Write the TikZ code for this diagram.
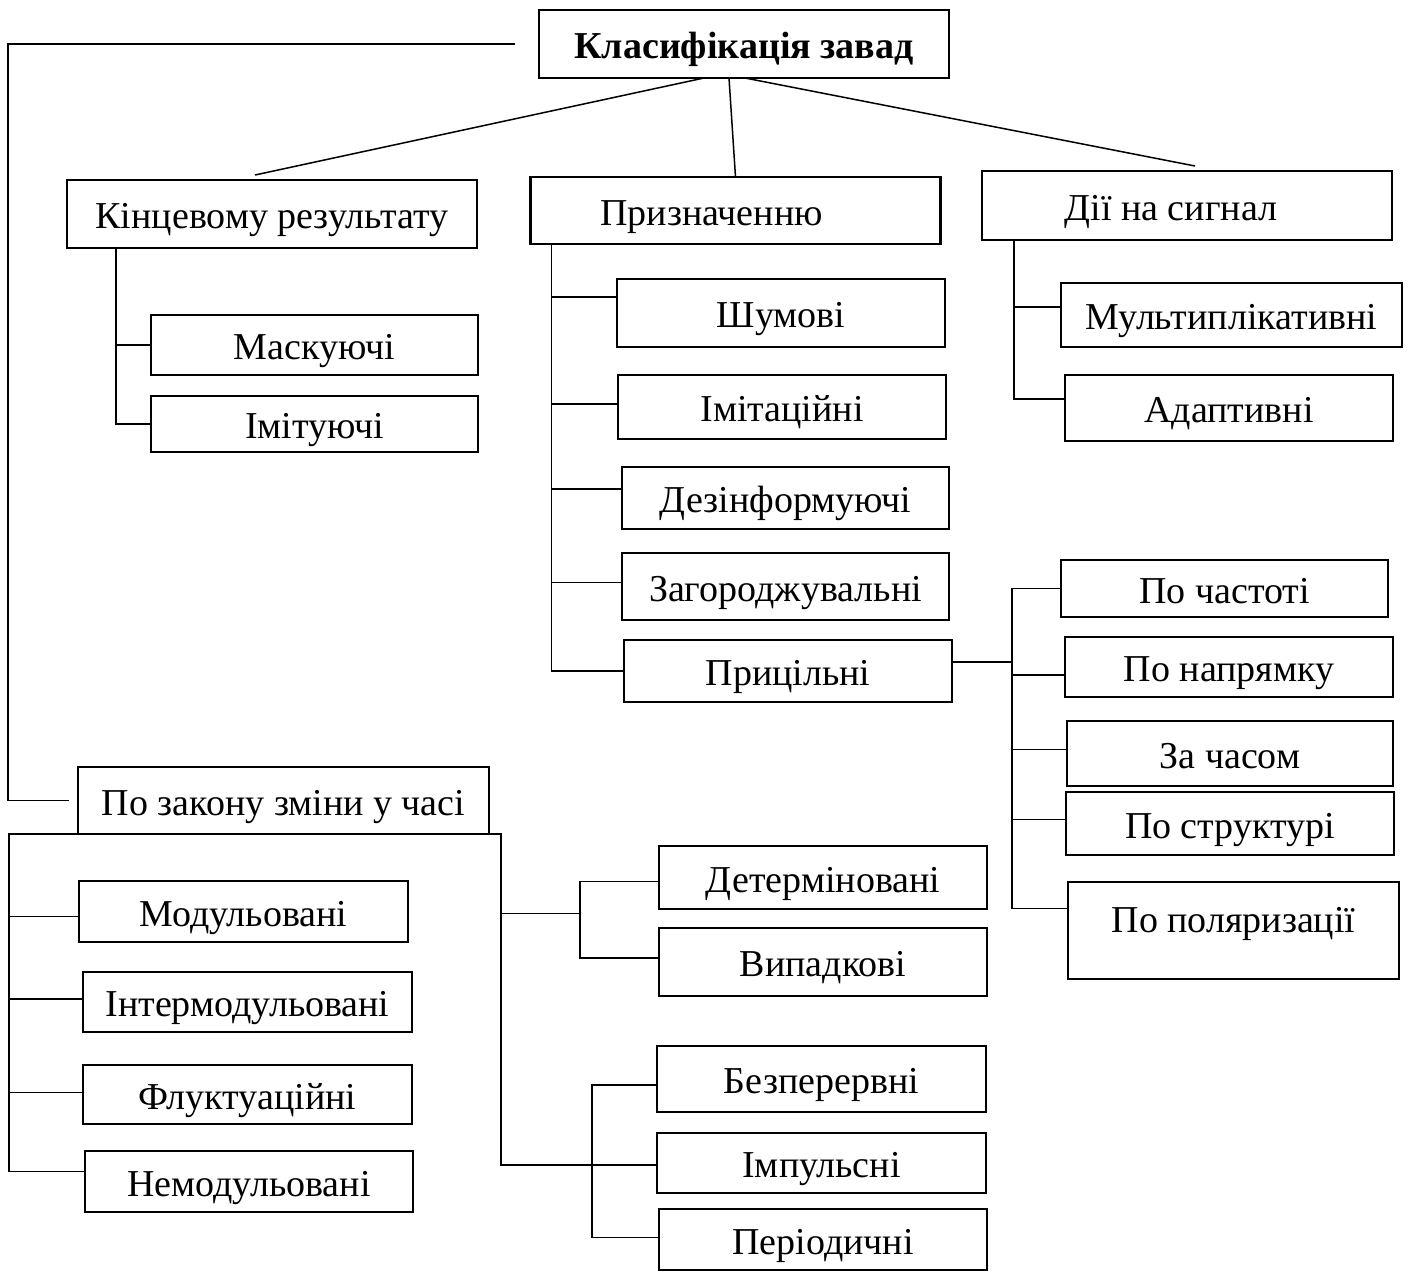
\documentclass[tikz,border=0pt]{standalone}
\usepackage{fontspec}
\setmainfont{Liberation Serif}
\usetikzlibrary{positioning}

\begin{document}
\begin{tikzpicture}[x=1pt,y=-1pt,
		box/.style={draw,line width=2.5pt,outer sep=0pt,minimum width=328pt,minimum height=64pt,inner sep=2pt,
			text height=33pt,text depth=4pt,font=\fontsize{38}{44}\selectfont},
		headbox/.style={box,minimum width=410pt,minimum height=68pt},
		link/.style={line width=1.5pt}]
			\useasboundingbox (0,0) rectangle (1411,1272);

			\node[headbox,font=\fontsize{38}{44}\selectfont\bfseries]	(root)	at (744,44)	{Класифікація завад};
			\node[headbox]										(kin)	at (272,214)	{Кінцевому результату};
			\node[headbox,minimum height=67pt]					(pryz)	at (735.5,210.5)	{\hspace*{-48pt}Призначенню};
			\node[headbox,minimum height=69pt]					(dii)	at (1187,205.5)	{\hspace*{-32pt}Дії на сигнал};

			\node[box,minimum width=327pt,minimum height=60pt,node distance=67pt,below=of kin,xshift=42.5pt]	(mask)	{Маскуючі};
			\node[box,minimum width=327pt,minimum height=56pt,node distance=21pt,below=of mask]				(imit)	{Імітуючі};

			\node[box,minimum height=68pt,node distance=35pt,below=of pryz,xshift=45.5pt]						(shum)	{Шумові};
			\node[box,node distance=28pt,below=of shum,xshift=1pt]											(imitac)	{Імітаційні};
			\node[box,minimum width=327pt,minimum height=62pt,node distance=28pt,below=of imitac,xshift=3.5pt]	(dez)	{Дезінформуючі};
			\node[box,minimum width=327pt,minimum height=67pt,node distance=24pt,below=of dez]				(zag)	{Загороджувальні};
			\node[box,minimum height=62pt,node distance=20pt,below=of zag,xshift=2.5pt]						(pryc)	{Прицільні};

			\node[box,minimum width=341pt,node distance=43pt,below=of dii,xshift=44.5pt]						(mult)	{Мультиплікативні};
			\node[box,minimum height=66pt,node distance=28pt,below=of mult,xshift=-2.5pt]						(adap)	{Адаптивні};

			\node[box,minimum width=327pt,minimum height=57pt,node distance=109pt,right=of pryc,yshift=82.5pt]	(chast)	{По частоті};
			\node[box,minimum height=60pt,node distance=20pt,below=of chast,xshift=4.5pt]						(napr)	{По напрямку};
			\node[box,minimum width=326pt,minimum height=65pt,node distance=24pt,below=of napr,xshift=1pt]	(chas)	{За часом};
			\node[box,minimum height=63pt,node distance=6pt,below=of chas]									(strukt)	{По структурі};
			\node[box,minimum width=331pt,minimum height=97pt,text depth=29pt,node distance=27pt,below=of strukt,xshift=3.5pt]	(polar)	{По поляризації};

			\node[headbox,minimum width=411pt,minimum height=67pt]	(zakon)	at (283.5,800.5)	{По закону зміни у часі};
			\node[box,minimum width=329pt,minimum height=61pt,node distance=47pt,below=of zakon,xshift=-40pt]	(modul)	{Модульовані};
			\node[box,minimum width=329pt,minimum height=60pt,node distance=30pt,below=of modul,xshift=4pt]	(intermod)	{Інтермодульовані};
			\node[box,minimum width=329pt,minimum height=59pt,node distance=33pt,below=of intermod]			(fluk)	{Флуктуаційні};
			\node[box,minimum height=61pt,node distance=27pt,below=of fluk,xshift=1.5pt]						(nemod)	{Немодульовані};

			\node[box,minimum height=63pt,node distance=170pt,right=of zakon,yshift=-77pt]					(determ)	{Детерміновані};
			\node[box,minimum height=68pt,node distance=19pt,below=of determ]								(vypad)	{Випадкові};
			\node[box,minimum width=329pt,minimum height=66pt,node distance=50pt,below=of vypad,xshift=-1.5pt]	(bezp)	{Безперервні};
			\node[box,minimum width=329pt,minimum height=60pt,node distance=21pt,below=of bezp]				(impul)	{Імпульсні};
			\node[box,minimum height=61pt,node distance=16pt,below=of impul,xshift=1.5pt]					(period)	{Періодичні};

			\draw[link] ([xshift=-24pt]root.west) -| ([xshift=-70pt]zakon.west) -- ([xshift=-9pt]zakon.west);
			\draw[link] ([xshift=-40pt]root.south) -- ([xshift=-17pt,yshift=5pt]kin.north);
			\draw[link] ([xshift=-15pt]root.south) -- (pryz.north);
			\draw[link] ([xshift=1pt]root.south) -- ([xshift=8pt,yshift=5pt]dii.north);

			\draw[link] ([xshift=-156pt]kin.south) |- (imit.west);
			\draw[link] ([xshift=-156pt]kin.south |- mask.west) -- (mask.west);

			\draw[link] ([xshift=-184pt]pryz.south) |- (pryc.west);
			\foreach \n/\dy in {shum/16,imitac/3,dez/9,zag/4}
				\draw[link] ([xshift=-184pt,yshift=\dy pt]pryz.south |- \n.west) -- ([yshift=\dy pt]\n.west);

			\draw[link] ([xshift=-173pt]dii.south) |- ([yshift=9pt]adap.west);
			\draw[link] ([xshift=-173pt,yshift=8pt]dii.south |- mult.west) -- ([yshift=8pt]mult.west);

			\coordinate (pbus) at ([xshift=-49pt]chast.west);
			\draw[link] ([yshift=9pt]pryc.east) -| (pbus) -- (chast.west);
			\draw[link] (pbus) |- ([yshift=22pt]polar.west);
			\foreach \n/\dy in {napr/-8,chas/4,strukt/4}
				\draw[link] ([yshift=\dy pt]pbus |- \n.west) -- ([yshift=\dy pt]\n.west);

			\coordinate (zbus) at ([xshift=-69pt]zakon.south west);
			\draw[link] (zakon.south west) -- (zbus) |- ([yshift=10pt]nemod.west);
			\foreach \n/\dy in {modul/-5,intermod/3,fluk/2}
				\draw[link] ([yshift=\dy pt]zbus |- \n.west) -- ([yshift=\dy pt]\n.west);

			\coordinate (rbus) at ([xshift=12pt]zakon.south east);
			\draw[link] (zakon.south east) -- (rbus) |- ([yshift=-2pt]impul.west);
			\coordinate (dtop) at ([xshift=-79pt,yshift=-4pt]determ.west);
			\coordinate (dmid) at ([yshift=-32pt]dtop);
			\draw[link] ([yshift=-4pt]determ.west) -- (dtop) |- ([yshift=4pt]vypad.west);
			\draw[link] (rbus |- dmid) -- (dmid);
			\coordinate (btop) at ([xshift=-65pt,yshift=-6pt]bezp.west);
			\draw[link] ([yshift=-6pt]bezp.west) -- (btop) |- ([yshift=2pt]period.west);
		\end{tikzpicture}
\end{document}
